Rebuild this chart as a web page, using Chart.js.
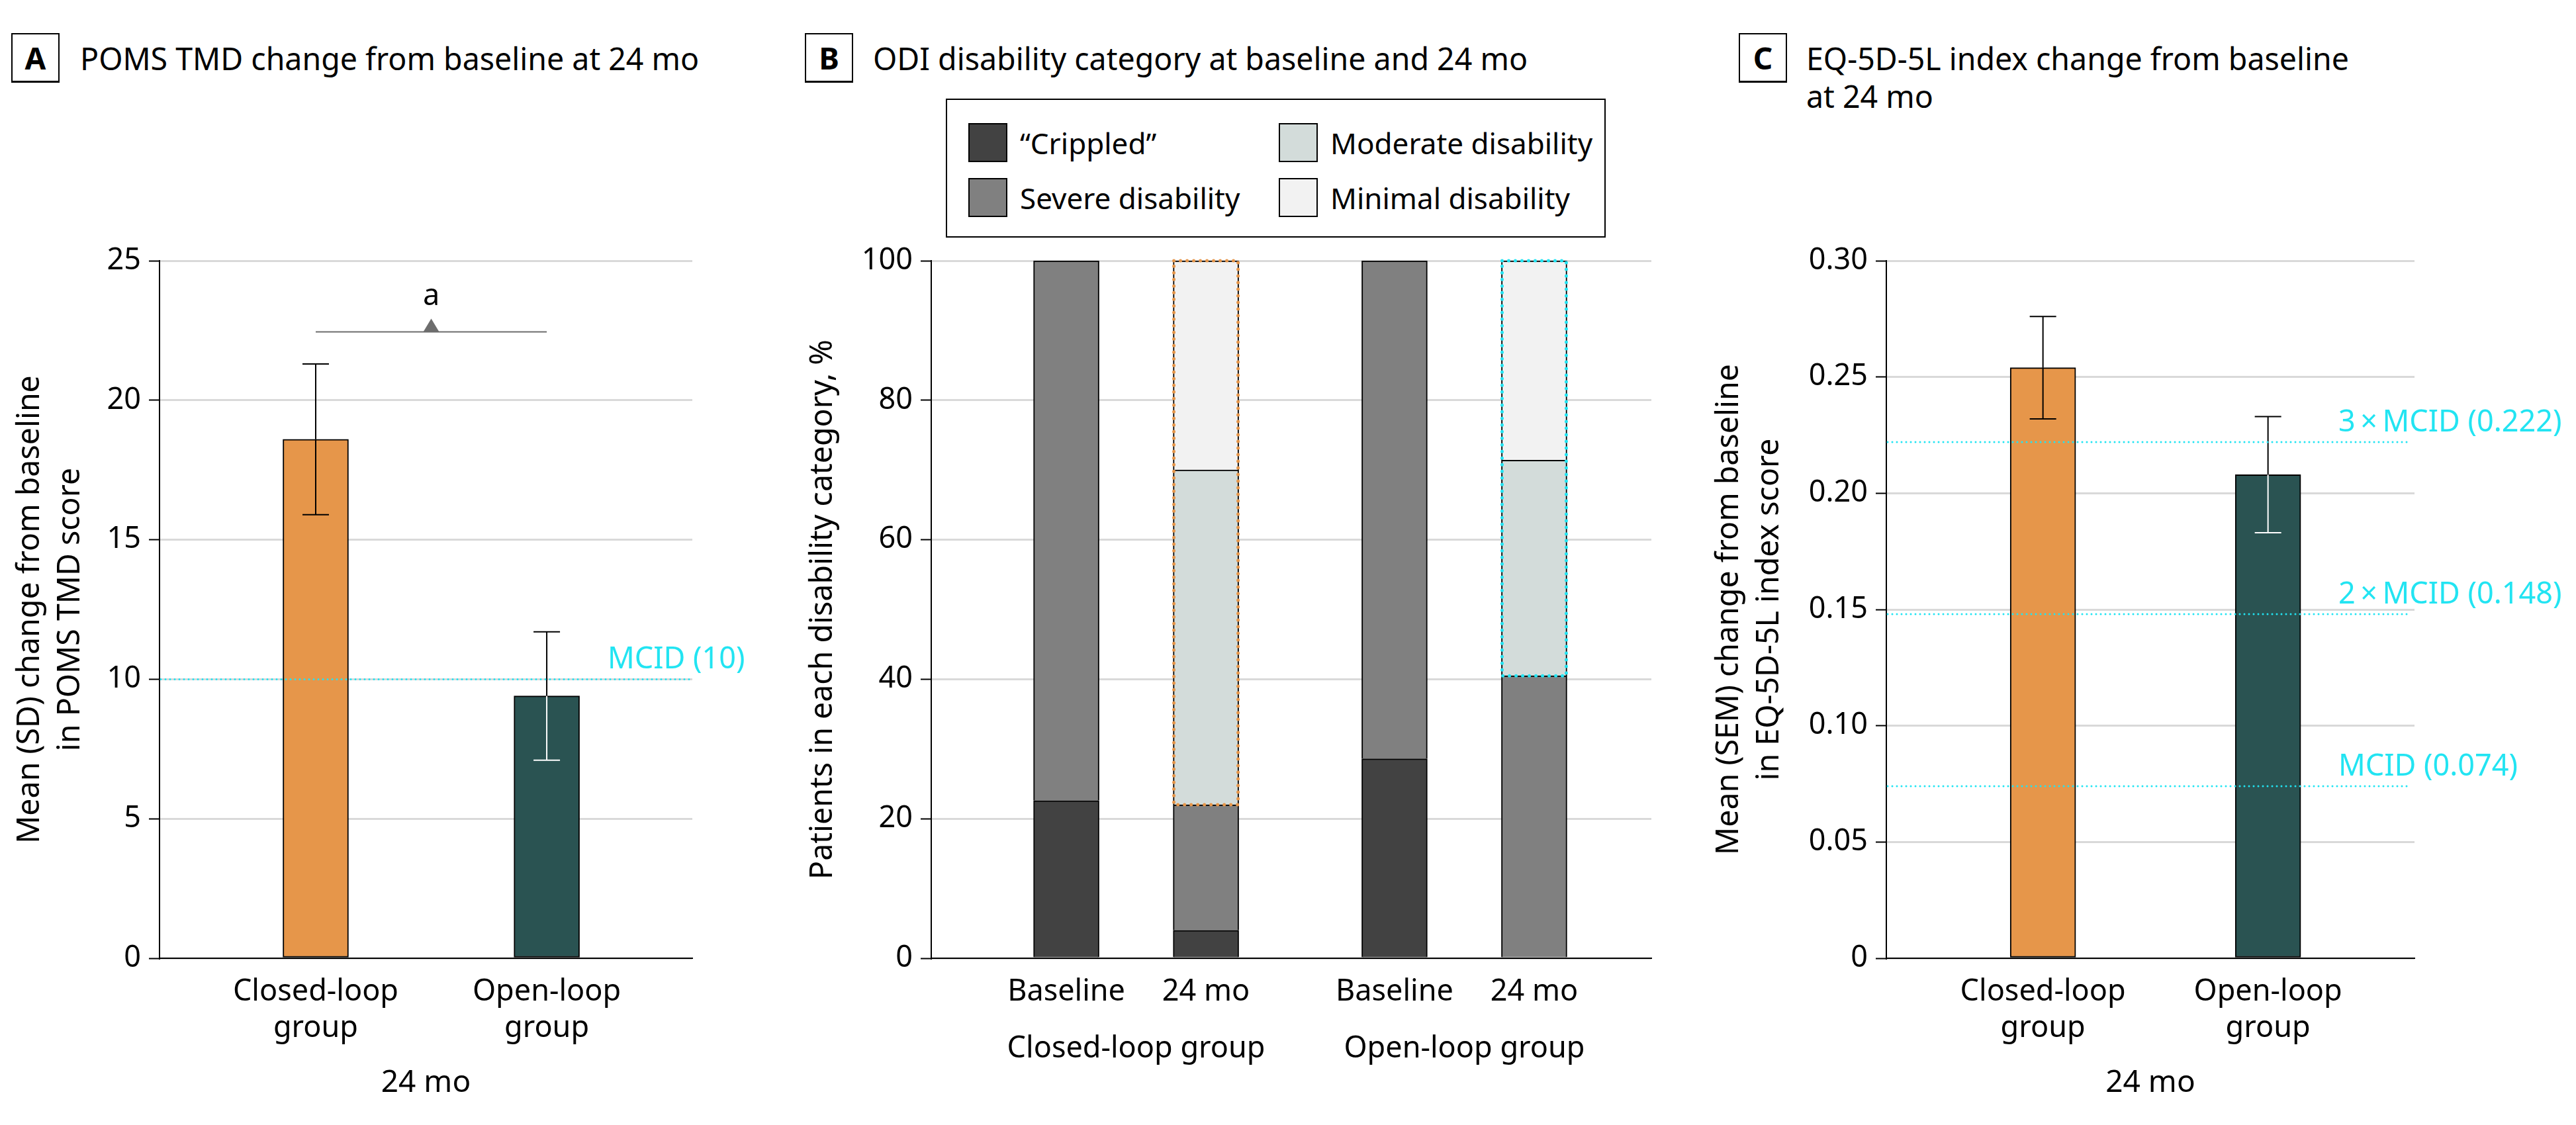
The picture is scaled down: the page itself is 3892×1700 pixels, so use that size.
<!DOCTYPE html>
<html>
<head>
<meta charset="utf-8">
<title>POMS, ODI and EQ-5D-5L at 24 mo</title>
<script src="https://cdn.jsdelivr.net/npm/chart.js@4.4.1/dist/chart.umd.min.js"></script>
<style>
  html, body { margin: 0; padding: 0; background: #fff; }
  body { position: relative; width: 3892px; height: 1700px; overflow: hidden; font-family: 'Noto Sans', sans-serif; color: #000; }
  canvas { position: absolute; top: 0; }
  .tag { position: absolute; top: 50px; width: 69px; height: 70px; border: 2px solid #000; border-bottom-width: 3px;
         display: flex; align-items: center; justify-content: center; font-weight: 700; font-size: 46px; }
  .title { position: absolute; top: 60px; font-size: 46.5px; line-height: 57px; white-space: nowrap; }
  #odiLegend { position: absolute; left: 1429px; top: 149px; width: 993px; height: 206px; border: 2px solid #000; }
  .item { position: absolute; display: flex; align-items: center; height: 59px; font-size: 44px; white-space: nowrap; }
  .swatch { width: 55px; height: 55px; border: 2px solid #000; margin-right: 19px; }
</style>
</head>
<body>
<div class="tag" style="left:17px">A</div>
<div class="title" style="left:121px">POMS TMD change from baseline at 24 mo</div>
<div class="tag" style="left:1216px">B</div>
<div class="title" style="left:1319px">ODI disability category at baseline and 24 mo</div>
<div class="tag" style="left:2627px">C</div>
<div class="title" style="left:2729px">EQ-5D-5L index change from baseline<br>at 24 mo</div>
<div id="odiLegend"></div>
<canvas id="pomsChart" width="1200" height="1700" style="left:0px"></canvas>
<canvas id="odiChart" width="1320" height="1700" style="left:1200px"></canvas>
<canvas id="eqChart" width="1332" height="1700" style="left:2560px"></canvas>
<script>
// groups shared by all three panels
const groups = ['Closed-loop group', 'Open-loop group'];
const groupTickLabels = [['Closed-loop', 'group'], ['Open-loop', 'group']];

// A - POMS TMD change from baseline (mean, SD range)
const pomsMean = [18.6, 9.4];
const pomsLow = [15.9, 7.1];
const pomsHigh = [21.3, 11.7];
const pomsTicks = [0, 5, 10, 15, 20, 25];
const pomsMcid = [10];
const pomsMcidLabels = ['MCID (10)'];
const pomsSigLevel = 22.45;
const pomsSigMark = 'a';

// B - ODI disability category, % of patients (bars: closed baseline, closed 24 mo, open baseline, open 24 mo)
const odiTimes = ['Baseline', '24 mo'];
const odiCategories = ['\u201CCrippled\u201D', 'Severe disability', 'Moderate disability', 'Minimal disability'];
const odiCrippled = [22.6, 4.0, 28.6, 0];
const odiSevere = [77.4, 18.0, 71.4, 40.5];
const odiModerate = [0, 48.0, 0, 30.9];
const odiMinimal = [0, 30.0, 0, 28.6];
const odiTicks = [0, 20, 40, 60, 80, 100];

// C - EQ-5D-5L index change from baseline (mean, SEM range)
const eqMean = [0.254, 0.208];
const eqLow = [0.232, 0.183];
const eqHigh = [0.276, 0.233];
const eqTicks = [0, 0.05, 0.10, 0.15, 0.20, 0.25, 0.30];
const eqMcid = [0.074, 0.148, 0.222];
const eqMcidLabels = ['MCID (0.074)', '2\u2009\u00D7\u2009MCID (0.148)', '3\u2009\u00D7\u2009MCID (0.222)'];

// styling
const orange = '#e6964a';
const teal = '#2a5352';
const cyan = '#22e4f2';
const odiColors = ['#424242', '#808080', '#d3dcda', '#f2f2f2'];
const gridGray = '#d9d9d9';
const tickFont = { size: 45, lineHeight: 1.22 };
const axisTitleFont = { size: 46.5, lineHeight: 1.3 };
const groupStep = 2.35; // distance between the two ODI groups, in bar slots

Chart.defaults.font.family = "'Noto Sans', sans-serif";
Chart.defaults.color = '#000';
Chart.defaults.animation = false;
Chart.defaults.plugins.legend.display = false;
Chart.defaults.plugins.tooltip.enabled = false;

// put ticks exactly where we want them, and pin the range
const fixedTicks = (values, min, max) => scale => {
  scale.ticks = values.map(v => ({ value: v }));
  scale.min = min;
  scale.max = max;
};

// error bars: black above the bar, inner colour inside it
const errorBars = {
  id: 'errorBars',
  afterDatasetsDraw(chart, args, opts) {
    const { ctx } = chart;
    const y = chart.scales.y;
    const half = opts.capWidth / 2;
    ctx.save();
    ctx.lineWidth = 2;
    chart.getDatasetMeta(0).data.forEach((bar, i) => {
      const hi = y.getPixelForValue(opts.high[i]);
      const lo = y.getPixelForValue(opts.low[i]);
      ctx.strokeStyle = '#000';
      ctx.beginPath();
      ctx.moveTo(bar.x - half, hi); ctx.lineTo(bar.x + half, hi);
      ctx.moveTo(bar.x, hi); ctx.lineTo(bar.x, bar.y);
      ctx.stroke();
      ctx.strokeStyle = opts.innerColor[i];
      ctx.beginPath();
      ctx.moveTo(bar.x, bar.y); ctx.lineTo(bar.x, lo);
      ctx.moveTo(bar.x - half, lo); ctx.lineTo(bar.x + half, lo);
      ctx.stroke();
    });
    ctx.restore();
  }
};

// dotted MCID reference lines with labels on the right
const mcidLines = {
  id: 'mcidLines',
  afterDatasetsDraw(chart, args, opts) {
    const { ctx, chartArea } = chart;
    const y = chart.scales.y;
    ctx.save();
    opts.values.forEach((v, i) => {
      const py = y.getPixelForValue(v);
      ctx.strokeStyle = cyan;
      ctx.lineWidth = 3;
      ctx.lineCap = 'round';
      ctx.setLineDash([0, 7]);
      ctx.beginPath();
      ctx.moveTo(chartArea.left + 2, py);
      ctx.lineTo(chartArea.right - opts.lineInset, py);
      ctx.stroke();
      ctx.setLineDash([]);
      ctx.fillStyle = cyan;
      ctx.font = "45px 'Noto Sans', sans-serif";
      ctx.textAlign = 'left';
      ctx.textBaseline = 'alphabetic';
      ctx.fillText(opts.labels[i], chartArea.right + opts.labelDx, py - 16);
    });
    ctx.restore();
  }
};

// significance bracket between the two POMS bars
const sigBracket = {
  id: 'sigBracket',
  afterDatasetsDraw(chart, args, opts) {
    const { ctx } = chart;
    const bars = chart.getDatasetMeta(0).data;
    const py = chart.scales.y.getPixelForValue(opts.level);
    const mid = (bars[0].x + bars[1].x) / 2;
    ctx.save();
    ctx.strokeStyle = '#6d6d6d';
    ctx.fillStyle = '#6d6d6d';
    ctx.lineWidth = 2;
    ctx.beginPath();
    ctx.moveTo(bars[0].x, py); ctx.lineTo(bars[1].x, py);
    ctx.stroke();
    ctx.beginPath();
    ctx.moveTo(mid - 12, py); ctx.lineTo(mid + 12, py); ctx.lineTo(mid, py - 20);
    ctx.closePath();
    ctx.fill();
    ctx.fillStyle = '#000';
    ctx.font = "45px 'Noto Sans', sans-serif";
    ctx.textAlign = 'center';
    ctx.textBaseline = 'alphabetic';
    ctx.fillText(opts.mark, mid, py - 41);
    ctx.restore();
  }
};

// dotted outline round the moderate + minimal part of the 24 mo bars
const improvedOutline = {
  id: 'improvedOutline',
  afterDatasetsDraw(chart, args, opts) {
    const { ctx } = chart;
    const y = chart.scales.y;
    const bars = chart.getDatasetMeta(0).data;
    ctx.save();
    ctx.lineWidth = 5;
    ctx.lineCap = 'round';
    ctx.setLineDash([0, 10]);
    opts.bars.forEach((i, k) => {
      const bar = bars[i];
      const bottom = y.getPixelForValue(odiCrippled[i] + odiSevere[i]);
      const top = y.getPixelForValue(odiCrippled[i] + odiSevere[i] + odiModerate[i] + odiMinimal[i]);
      ctx.strokeStyle = opts.colors[k];
      ctx.strokeRect(bar.x - bar.width / 2 + 1, top, bar.width - 2, bottom - top);
    });
    ctx.restore();
  }
};

function valueAxis(min, max, ticks, title, width, titlePad, format) {
  return {
    min, max,
    afterBuildTicks: fixedTicks(ticks, min, max),
    afterFit: s => { s.width = width; },
    ticks: { font: tickFont, color: '#000', padding: 12, callback: format || (v => v) },
    grid: { color: gridGray, lineWidth: 3, drawTicks: true, tickLength: 16, tickColor: '#000', tickWidth: 2 },
    border: { color: '#000', width: 2 },
    title: { display: true, text: title, font: axisTitleFont, color: '#000', padding: { top: titlePad, bottom: 0 } }
  };
}

function groupAxis(min, max, positions, labels, height, title) {
  return {
    type: 'linear', min, max,
    offset: false,
    bounds: 'data',
    afterBuildTicks: fixedTicks(positions, min, max),
    afterFit: s => { s.height = height; },
    ticks: { font: tickFont, color: '#000', padding: 24, autoSkip: false, maxRotation: 0, callback: (v, i) => labels[i] },
    grid: { display: false, drawTicks: false, offset: false },
    border: { color: '#000', width: 2 },
    title: { display: !!title, text: title, font: { size: 46, lineHeight: 1.2 }, color: '#000', padding: { top: 0, bottom: 0 } }
  };
}

const barPos = [1, 2];

// A
new Chart(document.getElementById('pomsChart'), {
  type: 'bar',
  data: {
    datasets: [{
      data: pomsMean.map((v, i) => ({ x: barPos[i], y: v })),
      backgroundColor: [orange, teal],
      borderColor: '#000',
      borderWidth: 2,
      borderSkipped: false,
      barThickness: 99
    }]
  },
  options: {
    responsive: false,
    layout: { padding: { left: 0, top: 394, right: 154, bottom: 36 } },
    scales: {
      x: groupAxis(0.324, 2.63, barPos, groupTickLabels, 216, '24 mo'),
      y: valueAxis(0, 25, pomsTicks, ['Mean (SD) change from baseline', 'in POMS TMD score'], 241, 16)
    },
    plugins: {
      errorBars: { low: pomsLow, high: pomsHigh, capWidth: 40, innerColor: ['#000', '#fff'] },
      mcidLines: { values: pomsMcid, labels: pomsMcidLabels, labelDx: -128, lineInset: 0 },
      sigBracket: { level: pomsSigLevel, mark: pomsSigMark }
    }
  },
  plugins: [errorBars, mcidLines, sigBracket]
});

// B
const odiX = groups.flatMap((g, gi) => odiTimes.map((t, ti) => gi * groupStep + ti));
const odiTimeLabels = groups.flatMap(() => odiTimes);
const odiGroupX = groups.map((g, gi) => gi * groupStep + 0.5);
const odiSeries = [odiCrippled, odiSevere, odiModerate, odiMinimal];
const odiXAxis = groupAxis(-0.967, 4.189, odiX, odiTimeLabels, 110, '');
odiXAxis.weight = 0;
const odiGroupAxis = groupAxis(-0.967, 4.189, odiGroupX, groups, 80, '');
odiGroupAxis.weight = 1;
odiGroupAxis.border = { display: false };
odiGroupAxis.ticks.padding = 0;

new Chart(document.getElementById('odiChart'), {
  type: 'bar',
  data: {
    datasets: odiSeries.map((series, k) => ({
      label: odiCategories[k],
      data: series.map((v, i) => ({ x: odiX[i], y: v })),
      backgroundColor: odiColors[k],
      borderColor: '#000',
      borderWidth: { top: 2, left: 2, right: 2, bottom: 0 },
      borderSkipped: false,
      grouped: false,
      barThickness: 99
    }))
  },
  options: {
    responsive: false,
    layout: { padding: { left: 0, top: 394, right: 25, bottom: 62 } },
    scales: {
      x: odiXAxis,
      x2: odiGroupAxis,
      y: Object.assign(valueAxis(0, 100, odiTicks, 'Patients in each disability category, %', 207, 14), { stacked: true })
    },
    plugins: {
      improvedOutline: { bars: [1, 3], colors: [orange, cyan] }
    }
  },
  plugins: [improvedOutline]
});

// ODI legend, two columns of two
const legend = document.getElementById('odiLegend');
odiCategories.forEach((name, k) => {
  const item = document.createElement('div');
  item.className = 'item';
  item.style.left = (32 + Math.floor(k / 2) * 469) + 'px';
  item.style.top = (35 + (k % 2) * 83) + 'px';
  const sw = document.createElement('div');
  sw.className = 'swatch';
  sw.style.background = odiColors[k];
  const txt = document.createElement('span');
  txt.textContent = name;
  item.appendChild(sw);
  item.appendChild(txt);
  legend.appendChild(item);
});

// C
new Chart(document.getElementById('eqChart'), {
  type: 'bar',
  data: {
    datasets: [{
      data: eqMean.map((v, i) => ({ x: barPos[i], y: v })),
      backgroundColor: [orange, teal],
      borderColor: '#000',
      borderWidth: 2,
      borderSkipped: false,
      barThickness: 99
    }]
  },
  options: {
    responsive: false,
    layout: { padding: { left: 0, top: 394, right: 244, bottom: 36 } },
    scales: {
      x: groupAxis(0.304, 2.651, barPos, groupTickLabels, 216, '24 mo'),
      y: valueAxis(0, 0.30, eqTicks, ['Mean (SEM) change from baseline', 'in EQ-5D-5L index score'], 290, 23,
        v => (v === 0 ? '0' : v.toFixed(2)))
    },
    plugins: {
      errorBars: { low: eqLow, high: eqHigh, capWidth: 40, innerColor: ['#000', '#fff'] },
      mcidLines: { values: eqMcid, labels: eqMcidLabels, labelDx: -115, lineInset: 5 }
    }
  },
  plugins: [errorBars, mcidLines]
});
</script>
</body>
</html>
